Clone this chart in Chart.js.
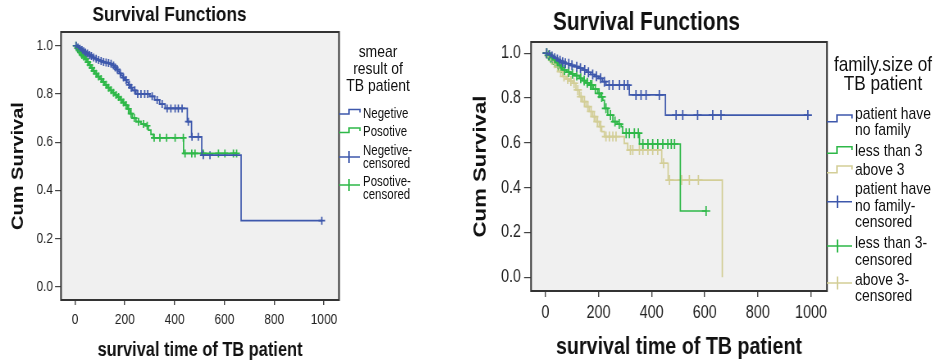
<!DOCTYPE html>
<html>
<head>
<meta charset="utf-8">
<title>Survival Functions</title>
<script src="https://cdn.jsdelivr.net/npm/chart.js@4.4.1/dist/chart.umd.min.js"></script>
<style>
  html, body { margin: 0; padding: 0; background: #fff; overflow: hidden; }
  #page { position: relative; width: 936px; height: 364px; overflow: hidden; }
  /* the original output uses a condensed face, so each chart is squeezed sideways */
  .box { position: absolute; top: 0; transform: scaleX(0.82); transform-origin: 0 0; }
  .leg { position: absolute; color: #111; white-space: nowrap; transform: scaleX(0.82); transform-origin: 0 0;
         font-family: "Liberation Sans", Arial, sans-serif; }
  .leg-title { text-align: center; transform-origin: 50% 0; }
  #icons { position: absolute; left: 0; top: 0; }
</style>
</head>
<body>
<div id="page">
  <div class="box" style="left:0"><canvas id="smear-chart" width="549" height="364"></canvas></div>
  <div class="box" style="left:466px"><canvas id="family-chart" width="578" height="364"></canvas></div>

  <!-- legend of the left chart -->
  <div class="leg leg-title" style="left:318px;top:42.5px;width:120px;font-size:17px;line-height:17px">smear<br>result of<br>TB patient</div>
  <div class="leg" style="left:363px;top:106.5px;font-size:14px;line-height:13.5px">Negetive</div>
  <div class="leg" style="left:363px;top:125px;font-size:14px;line-height:13.5px">Posotive</div>
  <div class="leg" style="left:363px;top:143.5px;font-size:14px;line-height:13.5px">Negetive-<br>censored</div>
  <div class="leg" style="left:363px;top:174.5px;font-size:14px;line-height:13.5px">Posotive-<br>censored</div>

  <!-- legend of the right chart -->
  <div class="leg leg-title" style="left:813px;top:53.5px;width:140px;font-size:21px;line-height:19px">family.size of<br>TB patient</div>
  <div class="leg" style="left:855px;top:105.8px;font-size:17px;line-height:16.5px">patient have<br>no family</div>
  <div class="leg" style="left:855px;top:142.5px;font-size:17px;line-height:16.5px">less than 3</div>
  <div class="leg" style="left:855px;top:161.8px;font-size:17px;line-height:16.5px">above 3</div>
  <div class="leg" style="left:855px;top:181.3px;font-size:17px;line-height:16.5px">patient have<br>no family-<br>censored</div>
  <div class="leg" style="left:855px;top:235.3px;font-size:17px;line-height:16.5px">less than 3-<br>censored</div>
  <div class="leg" style="left:855px;top:271.8px;font-size:17px;line-height:16.5px">above 3-<br>censored</div>

  <svg id="icons" width="936" height="364" fill="none" stroke-width="1.5">
    <path d="M339 114 H349 V109.5 H360 V112.5" stroke="#3E58AC"/>
    <path d="M339 132.5 H349 V128 H360 V131" stroke="#2EB848"/>
    <path d="M339 157 H360 M349 151 V163" stroke="#3E58AC"/>
    <path d="M339 185 H360 M349 179 V191" stroke="#2EB848"/>
    <path d="M827 121.7 H837 V115 H852 V118.5" stroke="#3E58AC"/>
    <path d="M827 153.3 H837 V146.7 H852 V150" stroke="#2EB848"/>
    <path d="M827 172.7 H837 V166 H852 V169.5" stroke="#D3CE97"/>
    <path d="M827 201.7 H852 M837.5 195.5 V208" stroke="#3E58AC"/>
    <path d="M827 246 H852 M837.5 239.5 V252.5" stroke="#2EB848"/>
    <path d="M827 283 H852 M837.5 276.5 V289.5" stroke="#D3CE97"/>
  </svg>
</div>

<script>
// ---- smear result chart (left) ----
const negTime = [0, 8, 15, 22, 30, 38, 45, 55, 62, 70, 80, 90, 100, 110, 120, 130, 140, 150, 158, 165, 172, 178, 185, 192, 200, 208, 215, 222, 230, 245, 300, 320, 340, 362, 451, 468, 509, 667, 991];
const negSurv = [1.000, 0.993, 0.988, 0.982, 0.977, 0.972, 0.968, 0.962, 0.957, 0.951, 0.946, 0.941, 0.937, 0.933, 0.930, 0.928, 0.925, 0.918, 0.910, 0.902, 0.895, 0.885, 0.877, 0.868, 0.858, 0.848, 0.838, 0.826, 0.815, 0.800, 0.790, 0.775, 0.758, 0.740, 0.685, 0.622, 0.546, 0.274, 0.274];
const negCensTime = [5, 12, 20, 28, 35, 42, 50, 58, 66, 75, 85, 95, 105, 115, 125, 135, 145, 155, 162, 170, 182, 195, 205, 218, 226, 240, 252, 265, 280, 292, 310, 330, 350, 370, 385, 402, 415, 430, 455, 470, 495, 515, 542, 991];
const negCensSurv = [1.000, 0.993, 0.988, 0.982, 0.977, 0.972, 0.968, 0.962, 0.957, 0.951, 0.946, 0.941, 0.937, 0.933, 0.930, 0.928, 0.925, 0.918, 0.910, 0.902, 0.885, 0.868, 0.858, 0.838, 0.826, 0.815, 0.800, 0.800, 0.800, 0.800, 0.790, 0.775, 0.758, 0.740, 0.740, 0.740, 0.740, 0.740, 0.685, 0.622, 0.622, 0.546, 0.546, 0.274];

const posTime = [0, 6, 12, 18, 25, 32, 40, 48, 56, 64, 72, 80, 90, 100, 110, 120, 130, 140, 150, 160, 170, 180, 190, 200, 210, 220, 230, 245, 265, 285, 295, 305, 315, 436, 649];
const posSurv = [1.000, 0.990, 0.981, 0.972, 0.962, 0.954, 0.945, 0.932, 0.920, 0.908, 0.896, 0.884, 0.872, 0.862, 0.850, 0.838, 0.826, 0.815, 0.805, 0.796, 0.787, 0.776, 0.764, 0.754, 0.738, 0.718, 0.700, 0.685, 0.675, 0.668, 0.650, 0.632, 0.618, 0.553, 0.553];
const posCensTime = [4, 10, 16, 22, 28, 36, 44, 52, 60, 68, 76, 85, 95, 105, 115, 125, 135, 145, 155, 165, 175, 185, 195, 205, 215, 225, 238, 255, 275, 290, 318, 341, 368, 402, 435, 442, 469, 482, 515, 576, 602, 636, 649];
const posCensSurv = [1.000, 0.990, 0.981, 0.972, 0.962, 0.954, 0.945, 0.932, 0.920, 0.908, 0.896, 0.884, 0.872, 0.862, 0.850, 0.838, 0.826, 0.815, 0.805, 0.796, 0.787, 0.776, 0.764, 0.754, 0.738, 0.718, 0.700, 0.685, 0.675, 0.668, 0.618, 0.618, 0.618, 0.618, 0.618, 0.553, 0.553, 0.553, 0.553, 0.553, 0.553, 0.553, 0.553];

// ---- family size chart (right) ----
const noFamTime = [0, 10, 20, 30, 40, 50, 60, 70, 80, 95, 110, 125, 140, 155, 170, 185, 200, 215, 228, 316, 452, 988];
const noFamSurv = [1.000, 0.992, 0.985, 0.978, 0.972, 0.966, 0.960, 0.955, 0.953, 0.946, 0.940, 0.933, 0.925, 0.915, 0.905, 0.897, 0.888, 0.873, 0.858, 0.814, 0.724, 0.724];
const noFamCensTime = [5, 15, 25, 35, 45, 55, 65, 75, 88, 100, 118, 132, 148, 162, 178, 192, 208, 222, 240, 254, 279, 297, 310, 341, 360, 379, 429, 492, 517, 573, 630, 661, 988];
const noFamCensSurv = [1.000, 0.992, 0.985, 0.978, 0.972, 0.966, 0.960, 0.955, 0.953, 0.946, 0.940, 0.933, 0.925, 0.915, 0.905, 0.897, 0.888, 0.873, 0.858, 0.858, 0.858, 0.858, 0.858, 0.814, 0.814, 0.814, 0.814, 0.724, 0.724, 0.724, 0.724, 0.724, 0.724];

const lessTime = [0, 8, 16, 25, 35, 45, 55, 65, 80, 95, 110, 128, 140, 152, 166, 180, 197, 208, 216, 222, 235, 254, 270, 285, 291, 354, 508, 605];
const lessSurv = [1.000, 0.990, 0.980, 0.970, 0.958, 0.945, 0.935, 0.925, 0.916, 0.908, 0.900, 0.888, 0.878, 0.868, 0.858, 0.840, 0.821, 0.805, 0.790, 0.754, 0.724, 0.695, 0.684, 0.672, 0.643, 0.595, 0.296, 0.296];
const lessCensTime = [5, 12, 20, 30, 40, 50, 60, 72, 88, 102, 118, 133, 146, 158, 170, 175, 188, 202, 212, 228, 245, 262, 278, 304, 316, 335, 350, 367, 386, 404, 423, 442, 461, 474, 486, 605];
const lessCensSurv = [1.000, 0.990, 0.980, 0.970, 0.958, 0.945, 0.935, 0.925, 0.916, 0.908, 0.900, 0.888, 0.878, 0.868, 0.858, 0.858, 0.840, 0.821, 0.805, 0.754, 0.724, 0.695, 0.684, 0.643, 0.643, 0.643, 0.643, 0.595, 0.595, 0.595, 0.595, 0.595, 0.595, 0.595, 0.595, 0.296];

const aboveTime = [0, 10, 20, 30, 40, 52, 65, 78, 90, 103, 115, 128, 140, 153, 165, 178, 190, 203, 212, 222, 297, 310, 438, 462, 666];
const aboveSurv = [1.000, 0.985, 0.970, 0.955, 0.940, 0.918, 0.896, 0.885, 0.876, 0.866, 0.836, 0.806, 0.784, 0.762, 0.740, 0.717, 0.695, 0.672, 0.650, 0.628, 0.598, 0.568, 0.509, 0.434, 0.000];
const aboveCensTime = [5, 15, 25, 35, 46, 58, 70, 84, 96, 108, 122, 134, 147, 160, 172, 184, 196, 208, 228, 241, 254, 266, 320, 329, 354, 367, 386, 404, 423, 445, 467, 513, 542, 576];
const aboveCensSurv = [1.000, 0.985, 0.970, 0.955, 0.940, 0.918, 0.896, 0.885, 0.876, 0.866, 0.836, 0.806, 0.784, 0.762, 0.740, 0.717, 0.695, 0.672, 0.628, 0.628, 0.628, 0.628, 0.568, 0.568, 0.568, 0.568, 0.568, 0.568, 0.568, 0.509, 0.434, 0.434, 0.434, 0.434];

// axis ticks
const timeTicks = [0, 200, 400, 600, 800, 1000];
const survTicks = [0.0, 0.2, 0.4, 0.6, 0.8, 1.0];

const BLUE = '#3E58AC';
const GREEN = '#2EB848';
const TAN = '#D3CE97';
const FONT = '"Liberation Sans", Arial, sans-serif';

function points(xs, ys) {
    return xs.map((x, i) => ({ x: x, y: ys[i] }));
}

function stepSet(label, xs, ys, color) {
    return {
        label: label,
        data: points(xs, ys),
        showLine: true,
        stepped: 'before',
        borderColor: color,
        borderWidth: 1.7,
        pointRadius: 0,
        pointHoverRadius: 0
    };
}

function censSet(label, xs, ys, color, size) {
    return {
        label: label,
        data: points(xs, ys),
        showLine: false,
        pointStyle: 'cross',
        pointRadius: size,
        pointBorderWidth: 1.7,
        borderColor: color,
        backgroundColor: color
    };
}

// grey plot background and dark frame round it
const framePlugin = {
    id: 'frame',
    beforeDraw(chart) {
        const a = chart.chartArea;
        chart.ctx.save();
        chart.ctx.fillStyle = '#f0f0f0';
        chart.ctx.fillRect(a.left, a.top, a.right - a.left, a.bottom - a.top);
        chart.ctx.restore();
    },
    afterDraw(chart) {
        const a = chart.chartArea;
        chart.ctx.save();
        chart.ctx.strokeStyle = '#333';
        chart.ctx.lineWidth = 2;
        chart.ctx.strokeRect(a.left, a.top, a.right - a.left, a.bottom - a.top);
        chart.ctx.restore();
    }
};

function makeChart(id, datasets, s) {
    return new Chart(document.getElementById(id), {
        type: 'scatter',
        data: { datasets: datasets },
        plugins: [framePlugin],
        options: {
            responsive: false,
            animation: false,
            devicePixelRatio: 1,
            layout: { padding: { left: 0, right: s.padRight, top: 0, bottom: 0 } },
            plugins: {
                legend: { display: false },
                tooltip: { enabled: false },
                title: {
                    display: true,
                    text: 'Survival Functions',
                    color: '#111',
                    font: { family: FONT, size: s.titleSize, weight: 'bold' },
                    padding: s.titlePad
                }
            },
            scales: {
                x: {
                    type: 'linear',
                    min: s.xMin,
                    max: s.xMax,
                    afterBuildTicks: scale => { scale.ticks = timeTicks.map(v => ({ value: v })); },
                    afterFit: scale => { scale.height = s.xHeight; },
                    border: { display: false },
                    grid: { drawOnChartArea: false, drawTicks: true, tickLength: s.xTickLen, color: '#444', lineWidth: 1.4 },
                    ticks: { color: '#222', padding: s.xTickPad, maxRotation: 0, font: { family: FONT, size: s.tickSize }, callback: v => String(v) },
                    title: {
                        display: true,
                        text: 'survival time of TB patient',
                        color: '#111',
                        font: { family: FONT, size: s.xTitleSize, weight: 'bold' },
                        padding: { top: 0, bottom: s.xTitlePad }
                    }
                },
                y: {
                    type: 'linear',
                    min: s.yMin,
                    max: s.yMax,
                    afterBuildTicks: scale => { scale.ticks = survTicks.map(v => ({ value: v })); },
                    afterFit: scale => { scale.width = s.yWidth; },
                    border: { display: false },
                    grid: { drawOnChartArea: false, drawTicks: true, tickLength: s.yTickLen, color: '#444', lineWidth: 1.2 },
                    ticks: { color: '#222', padding: s.yTickPad, font: { family: FONT, size: s.tickSize }, callback: v => v.toFixed(1) },
                    title: {
                        display: true,
                        text: 'Cum Survival',
                        color: '#111',
                        font: { family: FONT, size: s.yTitleSize, weight: 'bold' },
                        padding: { top: s.yTitlePad, bottom: 0 }
                    }
                }
            }
        }
    });
}

document.addEventListener('DOMContentLoaded', function() {
    // sizes along x are in unsqueezed canvas pixels (page px / 0.82)
    makeChart('smear-chart', [
        stepSet('Negetive', negTime, negSurv, BLUE),
        stepSet('Posotive', posTime, posSurv, GREEN),
        censSet('Negetive-censored', negCensTime, negCensSurv, BLUE, 4),
        censSet('Posotive-censored', posCensTime, posCensSurv, GREEN, 4)
    ], {
        padRight: 135.6, titleSize: 21, titlePad: { top: 2.4, bottom: 4.4 },
        xMin: -56, xMax: 1060, yMin: -0.055, yMax: 1.057,
        xHeight: 64, yWidth: 74.4, xTickLen: 5, yTickLen: 7.3, yTickPad: 2.5, tickSize: 14.5, xTickPad: 6,
        xTitleSize: 20, xTitlePad: 2, yTitleSize: 20, yTitlePad: 10
    });

    makeChart('family-chart', [
        stepSet('patient have no family', noFamTime, noFamSurv, BLUE),
        stepSet('less than 3', lessTime, lessSurv, GREEN),
        stepSet('above 3', aboveTime, aboveSurv, TAN),
        censSet('patient have no family-censored', noFamCensTime, noFamCensSurv, BLUE, 5),
        censSet('less than 3-censored', lessCensTime, lessCensSurv, GREEN, 5),
        censSet('above 3-censored', aboveCensTime, aboveCensSurv, TAN, 5)
    ], {
        padRight: 137.8, titleSize: 25.5, titlePad: { top: 7.7, bottom: 3.7 },
        xMin: -54, xMax: 1060, yMin: -0.061, yMax: 1.050,
        xHeight: 73, yWidth: 79.3, xTickLen: 6, yTickLen: 8.5, yTickPad: 3.8, tickSize: 17.5, xTickPad: 6,
        xTitleSize: 24, xTitlePad: 2.6, yTitleSize: 22.2, yTitlePad: 5
    });
});
</script>
</body>
</html>
